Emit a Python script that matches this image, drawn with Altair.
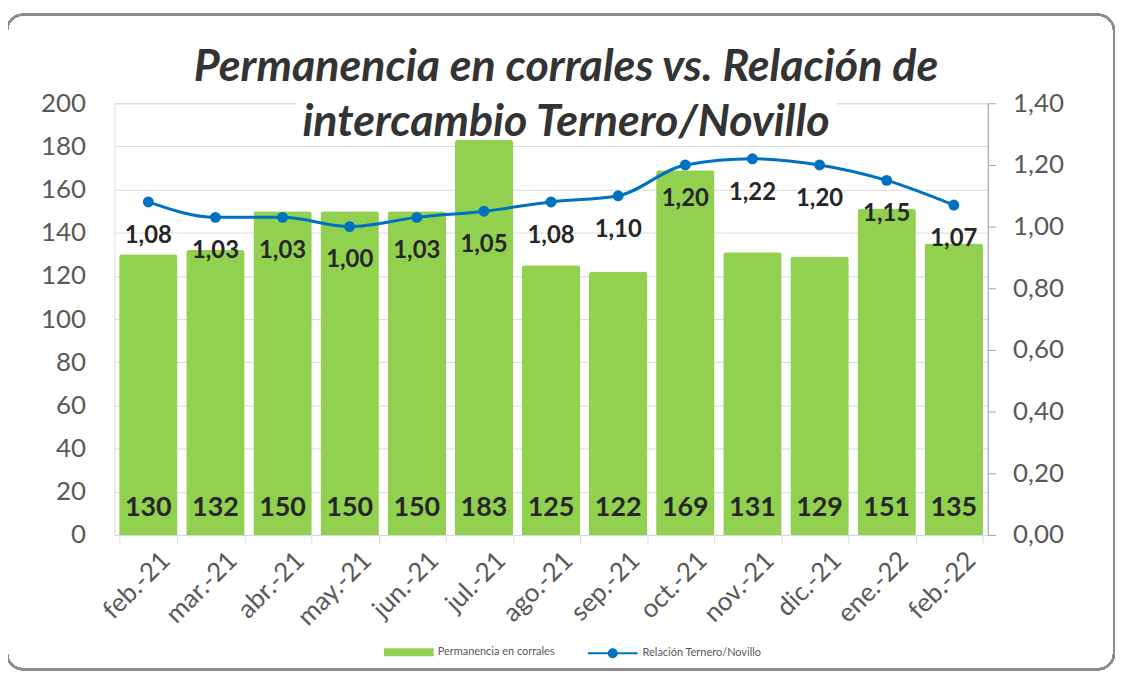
import altair as alt
import pandas as pd

months = ["feb.-21", "mar.-21", "abr.-21", "may.-21", "jun.-21", "jul.-21", "ago.-21",
          "sep.-21", "oct.-21", "nov.-21", "dic.-21", "ene.-22", "feb.-22"]
permanencia = [130, 132, 150, 150, 150, 183, 125, 122, 169, 131, 129, 151, 135]
relacion = [1.08, 1.03, 1.03, 1.00, 1.03, 1.05, 1.08, 1.10, 1.20, 1.22, 1.20, 1.15, 1.07]
bar_name = "Permanencia en corrales"
line_name = "Relación Ternero/Novillo"

df = pd.DataFrame({
    "mes": months,
    "perm": permanencia,
    "rel": relacion,
    "rel_lbl": [f"{v:.2f}".replace(".", ",") for v in relacion],
    "serie_bar": bar_name,
    "serie_line": line_name,
})

FONT = "Lato"
W, H = 878, 434
GREEN = "#92D050"
BLUE = "#0070C0"

x = alt.X("mes:N", sort=months, title=None,
          scale=alt.Scale(paddingInner=0.13, paddingOuter=0.07),
          axis=alt.Axis(labelAngle=-45, labelFontSize=26, labelColor="#595959",
                        labelFont=FONT, domainColor="#d9d9d9", tickColor="#d9d9d9",
                        tickSize=8, tickBand="extent", labelPadding=4, labelOffset=8))

yl = alt.Y("perm:Q", title=None,
           scale=alt.Scale(domain=[0, 200], nice=False),
           axis=alt.Axis(values=list(range(0, 201, 20)), domain=False, ticks=False,
                         grid=True, gridColor="#d9d9d9", labelFontSize=26,
                         labelColor="#595959", labelFont=FONT, labelPadding=29))

yr = alt.Y("rel:Q", title=None,
           scale=alt.Scale(domain=[0, 1.4], nice=False),
           axis=alt.Axis(orient="right", values=[0, 0.2, 0.4, 0.6, 0.8, 1.0, 1.2, 1.4],
                         labelExpr="replace(format(datum.value, '.2f'), '.', ',')",
                         domain=True, domainColor="#a6a6a6", tickColor="#a6a6a6",
                         ticks=True, tickSize=8, grid=False, labelFontSize=26,
                         labelColor="#595959", labelFont=FONT, labelPadding=17))

base = alt.Chart(df)

# white box behind the second title line (hides the top gridline, as in the original)
title_box = base.mark_rect(fill="white", stroke=None).encode(
    x=alt.value(183), x2=alt.value(726), y=alt.value(-3), y2=alt.value(31))

bars = base.mark_bar(cornerRadiusTopLeft=3, cornerRadiusTopRight=3).encode(
    x=x, y=yl,
    color=alt.Color("serie_bar:N", scale=alt.Scale(domain=[bar_name], range=[GREEN]),
                    legend=alt.Legend(title=None, orient="none", legendX=271, legendY=527,
                                      symbolType="M-1,-0.16H1V0.16H-1Z", symbolSize=2500,
                                      labelFontSize=11, labelColor="#595959", labelFont=FONT,
                                      symbolStrokeWidth=0)),
)

bar_labels = base.mark_text(font=FONT, fontSize=27, fontWeight="bold", color="#262626",
                            dy=-27, baseline="middle").encode(
    x=x, y=alt.datum(0), text=alt.Text("perm:Q"))

frame = base.mark_rect(filled=False, stroke="#8c8c8c", strokeWidth=2, cornerRadius=16).encode(
    x=alt.value(-108), x2=alt.value(1005), y=alt.value(-89), y2=alt.value(569))

left = alt.layer(title_box, bars, bar_labels, frame)

line = base.mark_line(interpolate="monotone", strokeWidth=3).encode(
    x=x, y=yr,
    stroke=alt.Stroke("serie_line:N", scale=alt.Scale(domain=[line_name], range=[BLUE]),
                      legend=alt.Legend(title=None, orient="none", legendX=475, legendY=527,
                                        symbolType="M-1,0H1M0.16,0A0.16,0.16 0 1,1 -0.16,0A0.16,0.16 0 1,1 0.16,0Z",
                                        symbolSize=2500, symbolStrokeWidth=2,
                                        symbolFillColor=BLUE,
                                        labelFontSize=11, labelColor="#595959", labelFont=FONT)),
)

points = base.mark_point(filled=True, size=120, color=BLUE, opacity=1).encode(x=x, y=yr)

line_labels = base.mark_text(font=FONT, fontSize=24, fontWeight="bold", color="#262626",
                             dy=34, baseline="middle").encode(
    x=x, y=yr, text="rel_lbl:N")

right = alt.layer(line, points, line_labels)

chart = alt.layer(left, right).resolve_scale(y="independent", color="independent").properties(
    width=W, height=H,
    autosize=alt.AutoSizeParams(type="none"),
    padding={"left": 107, "top": 94, "right": 128, "bottom": 135},
    title=alt.TitleParams(
        text=["Permanencia en corrales vs. Relación de", "intercambio Ternero/Novillo"],
        font=FONT, fontSize=45, fontStyle="italic", fontWeight="bold", color="#333333",
        anchor="middle", dx=15, dy=132, lineHeight=55, offset=0),
).configure_view(stroke=None).configure(background="white")

chart.save("out.html", embed_options={"renderer": "svg", "actions": False})
